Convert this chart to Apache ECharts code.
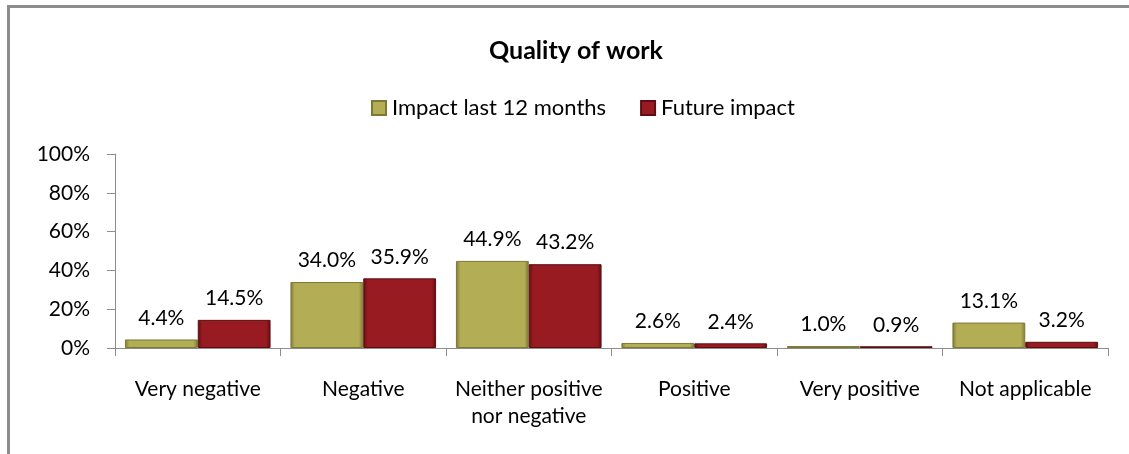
<!DOCTYPE html>
<html>
<head>
<meta charset="utf-8">
<script src="https://cdn.jsdelivr.net/npm/echarts@6/dist/echarts.min.js"></script>
<style>
  html, body { margin: 0; padding: 0; background: #fff; }
  #frame {
    position: absolute; left: 7px; top: 5px; right: 0; bottom: 0;
    border-top: 3px solid #8c8c8c; border-left: 3px solid #8c8c8c;
  }
  #chart { position: absolute; left: 0; top: 0; width: 1129px; height: 454px; }
</style>
</head>
<body>
<div id="frame"></div>
<div id="chart"></div>
<script>
const categories = ['Very negative', 'Negative', 'Neither positive\nnor negative', 'Positive', 'Very positive', 'Not applicable']
const lastYear = [4.4, 34.0, 44.9, 2.6, 1.0, 13.1]
const future = [14.5, 35.9, 43.2, 2.4, 0.9, 3.2]
const yTicks = [0, 20, 40, 60, 80, 100]

const font = 'Lato, "Open Sans", sans-serif'
const chart = echarts.init(document.getElementById('chart'))

const barStyle = (main, dark) => ({
  color: new echarts.graphic.LinearGradient(0, 0, 1, 0, [
    {offset: 0, color: dark},
    {offset: 0.06, color: main},
    {offset: 0.94, color: main},
    {offset: 1, color: dark}
  ]),
  borderColor: dark,
  borderWidth: 1
})

const label = {
  show: true,
  position: 'top',
  distance: 11,
  fontFamily: font,
  fontSize: 21,
  color: '#000',
  formatter: p => p.value.toFixed(1) + '%'
}

chart.setOption({
  animation: false,
  title: {
    text: 'Quality of work',
    left: 484,
    top: 33,
    textStyle: {fontFamily: font, fontSize: 25, fontWeight: 'bold', color: '#000'}
  },
  legend: {
    top: 92,
    left: 366,
    itemWidth: 14,
    itemHeight: 14,
    itemGap: 34,
    icon: 'rect',
    textStyle: {fontFamily: font, fontSize: 22, color: '#000', padding: [0, 0, 0, 1]},
    data: ['Impact last 12 months', 'Future impact']
  },
  grid: {left: 115, right: 21, top: 154, bottom: 106},
  xAxis: {
    type: 'category',
    data: categories,
    axisLine: {lineStyle: {color: '#8c8c8c', width: 1}},
    axisTick: {show: true, length: 8, lineStyle: {color: '#8c8c8c'}},
    axisLabel: {fontFamily: font, fontSize: 21, color: '#000', margin: 28, lineHeight: 27, interval: 0}
  },
  yAxis: {
    type: 'value',
    min: yTicks[0],
    max: yTicks[yTicks.length - 1],
    interval: yTicks[1] - yTicks[0],
    splitLine: {show: false},
    axisLine: {show: true, lineStyle: {color: '#8c8c8c'}},
    axisTick: {show: true, length: 8, lineStyle: {color: '#8c8c8c'}},
    axisLabel: {fontFamily: font, fontSize: 21, color: '#000', margin: 25, formatter: '{value}%'}
  },
  series: [
    {
      name: 'Impact last 12 months',
      type: 'bar',
      data: lastYear,
      barGap: '0%',
      barCategoryGap: '12%',
      itemStyle: barStyle('#b3ad56', '#7d7935'),
      label
    },
    {
      name: 'Future impact',
      type: 'bar',
      data: future,
      itemStyle: barStyle('#971b20', '#5e0e12'),
      label
    }
  ]
})
</script>
</body>
</html>
